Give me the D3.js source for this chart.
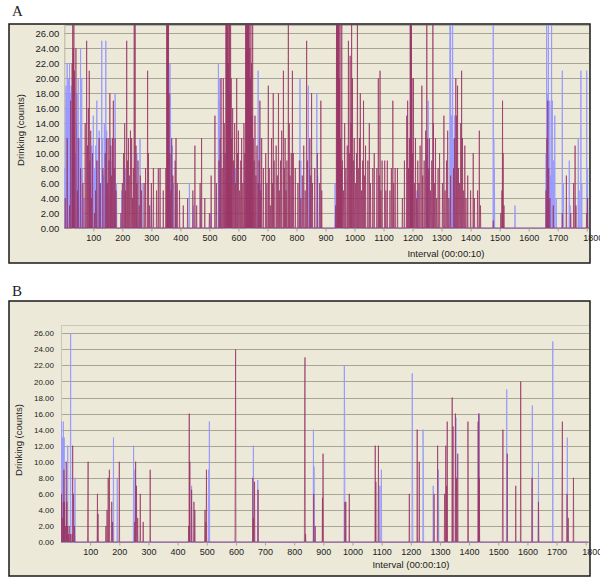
<!DOCTYPE html>
<html>
<head>
<meta charset="utf-8">
<script src="https://cdn.jsdelivr.net/npm/d3@7/dist/d3.min.js"></script>
<style>
  body { margin: 0; background: #fff; }
  svg { display: block; }
  text { font-family: "Liberation Sans", Arial, sans-serif; fill: #222; }
</style>
</head>
<body>
<div id="chart"></div>
<script>
// Drinking counts per 10 s interval as [interval, count].
// Intervals not listed are 0. Values of 30 run off the top of the plot.
const a_maroon = [
  [3,4],[10,12],[18,3],[22,17],[27,22],[29,30],[31,24],[33,30],[35,21],[40,24],[45,5],[48,12],[56,8],[64,6],
  [72,14],[77,25],[80,11],[83,16],[86,21],[88,9],[91,13],[94,4],[97,10],[104,2],[108,5],[112,9],[120,12],[124,6],[133,8],[141,10],[145,12],[148,6],[151,12],[154,9],[157,18],[160,11],[163,7],[166,12],[169,17],[172,8],[175,12],[178,5],
  [195,2],[200,6],[204,10],[208,14],[211,5],[215,25],[218,9],[221,12],[224,7],[228,13],[232,12],[235,4],[238,8],[241,30],[244,30],[247,11],[250,6],[254,9],[258,3],[262,7],[266,5],[275,6],[280,8],[287,21],[290,10],[294,3],[300,6],[307,8],[318,5],[324,8],[330,8],[341,5],
  [350,8],[353,30],[355,30],[357,30],[359,30],[361,18],[364,10],[367,5],[370,12],[374,7],[382,9],[385,12],[389,6],[397,5],
  [410,3],[425,4],[443,5],[450,11],[456,3],[468,6],[473,12],[484,4],[500,2],[506,7],[519,15],[524,6],
  [533,9],[537,12],[540,20],[544,8],[548,20],[551,14],[554,10],[557,30],[559,30],[561,30],[563,30],[565,22],[567,30],[569,30],[571,18],[573,30],[575,20],[577,12],[580,16],[583,9],[587,14],[590,6],[594,20],[597,10],[600,13],[604,5],[608,9],[611,12],[615,6],[619,14],[622,10],
  [625,30],[627,30],[629,30],[631,30],[633,30],[635,30],[637,30],[639,24],[641,20],[643,30],[645,22],[647,15],[649,30],[651,12],[654,9],[657,15],[660,7],[664,11],[668,6],[671,9],[674,17],[677,5],[680,12],[686,8],[694,10],[698,6],
  [703,19],[706,8],[710,3],[714,12],[717,6],[720,18],[723,9],[730,11],[734,7],[738,18],[741,5],[745,9],[749,13],[755,21],[758,8],[761,12],[764,5],[767,9],[772,30],[775,14],[778,7],[782,10],[786,21],[789,10],[796,8],
  [805,6],[810,9],[815,4],[820,7],[825,11],[830,5],[835,25],[838,9],[846,12],[849,7],[852,18],[855,6],[863,8],[872,10],[880,6],[884,17],[887,5],
  [935,3],[938,30],[940,30],[942,30],[944,30],[946,30],[948,20],[950,30],[952,12],[954,8],[956,30],[958,9],[962,5],[966,14],[970,8],[975,11],[979,25],[982,10],[985,23],[988,14],[990,30],[993,20],[996,9],[999,12],
  [1003,6],[1007,10],[1010,30],[1013,8],[1017,12],[1020,18],[1024,5],[1028,9],[1031,17],[1034,7],[1038,11],[1046,9],[1051,14],[1055,6],[1063,8],[1068,10],[1077,8],[1082,20],[1085,7],[1088,21],[1091,5],[1095,9],
  [1104,9],[1108,5],[1113,9],[1122,5],[1127,8],[1132,17],[1135,6],[1140,8],[1148,8],[1165,4],[1172,9],[1180,15],[1183,17],[1186,8],[1189,12],[1192,30],[1194,30],[1196,30],[1198,20],
  [1200,10],[1203,20],[1206,6],[1210,12],[1214,4],[1218,9],[1222,6],[1226,11],[1232,19],[1235,7],[1240,9],[1245,13],[1249,30],[1251,12],[1254,8],[1258,12],[1262,5],[1266,9],[1270,30],[1272,14],[1275,6],[1279,12],[1283,4],[1288,8],[1293,10],
  [1303,6],[1308,15],[1312,5],[1317,9],[1321,13],[1325,4],[1331,7],[1341,8],[1345,12],[1349,20],[1352,15],[1355,19],[1358,8],[1362,6],[1366,14],[1369,21],[1372,12],[1376,5],[1380,11],[1384,4],[1390,7],
  [1400,5],[1409,10],[1413,4],[1424,5],[1430,13],[1434,3],
  [1478,1],[1504,2],[1508,5],[1510,17],[1512,10],[1515,3],[1660,5],[1663,12],[1666,17],[1669,8],[1673,4],[1685,3],[1716,2],[1730,7],[1745,2],[1755,6],[1760,11],[1763,3],[1800,2],[1803,4]
];
const a_blue = [
  [2,8],[5,14],[6,19],[8,18],[10,22],[12,16],[14,20],[15,17],[16,11],[18,22],[20,15],[21,18],[22,9],[24,19],[26,13],[28,6],[30,16],[34,12],[38,10],[42,14],[44,18],[48,20],[52,12],[56,24],[58,14],[60,20],[63,8],[68,4],
  [90,6],[95,11],[100,15],[104,8],[108,11],[112,17],[116,9],[120,13],[125,6],[129,25],[132,12],[135,7],[138,14],[140,10],[143,25],[146,13],[150,6],[160,12],[165,9],[175,18],[180,6],[198,5],[210,8],[250,10],[261,12],[268,6],[300,4],
  [362,14],[364,22],[366,18],[368,9],[372,11],[376,6],[385,5],[431,6],[445,3],[470,4],[505,2],[531,22],[534,17],[536,20],[539,10],[590,8],[668,21],[671,12],[675,6],
  [812,20],[815,9],[841,19],[844,8],[870,18],[873,7],[933,6],[1194,30],[1196,18],[1199,10],[1215,5],[1249,10],[1254,17],[1257,8],
  [1329,30],[1331,30],[1334,15],[1338,30],[1341,12],[1345,15],[1478,30],[1480,12],[1482,8],[1553,3],
  [1660,10],[1662,30],[1664,18],[1666,14],[1668,30],[1670,10],[1673,17],[1676,7],[1679,30],[1682,17],[1686,9],[1690,15],[1695,4],
  [1716,21],[1720,6],[1740,9],[1743,3],[1771,12],[1774,5],[1780,21],[1783,6],[1800,21],[1803,8]
];
const b_maroon = [
  [2,6],[4,3],[8,5],[10,9],[12,5],[15,2],[18,10],[20,5],[22,2],[26,1],[28,2],[32,1],[38,1],[40,12],[43,6],[46,2],
  [92,5],[93,10],[125,6],[127,3.5],[154,2],[158,4],[162,8],[166,9],[174,5],[177,2.5],[200,10],
  [253,2.5],[256,10],[259,7],[263,3],[272,6],[282,2.5],[306,9],
  [438,2],[440,16],[442,10],[448,6.5],[456,5],[459,4],[494,4],[497,2.5],[499,9],
  [598,12],[599,24],[658,8],[660,3],[664,7.5],[676,6.5],[836,18],[837,23],[839,1],[867,6],[872,2],[897,5.5],[899,11],
  [974,5],[977,5],[989,6],[1078,12],[1080,7.5],[1089,12],
  [1195,6],[1222,14],[1229,10],[1280,6],[1292,12],
  [1316,6],[1320,12],[1323,7],[1325,15],[1342,18],[1345,14.4],[1353,16],[1357,8],[1361,11],[1396,15],[1397,8],[1431,15],[1433,16],[1435,8],
  [1515,7],[1516,14],[1531,11],[1560,7],[1577,20],[1616,8],[1638,5],[1719,7.5],[1720,15],[1736,6],[1740,3],[1758,8]
];
const b_blue = [
  [1,15],[5,13],[8,15],[11,13],[23,12],[33,26],[48,8],[180,13],[193,8],[249,12],[254,9],
  [448,7],[507,9],[509,15],[660,12],[675,7.7],[866,14],[868,9.4],
  [972,22],[973,16],[1094,7],[1099,9],[1205,21],[1206,10],[1242,14],[1243,10],[1277,7],[1295,9],
  [1355,15.5],[1435,16],[1529,19],[1617,17],[1638,10],[1687,25],[1737,13]
];

const n_intervals = 1810;
const y_ticks = d3.range(0, 27, 2);
const x_ticks = d3.range(100, 1801, 100);

const maroon = '#993366';
const blue = '#9999ff';
const grid_color = '#a8a597';
const panel_bg = '#ece9d8';

function full_series(pairs) {
    const vals = new Array(n_intervals).fill(0);
    pairs.forEach(([i, v]) => { vals[i] = v; });
    return vals;
}

const svg = d3.select('#chart').append('svg')
    .attr('width', 600)
    .attr('height', 587);

function draw_panel(p) {
    const g = svg.append('g');

    g.append('text')
        .attr('x', p.letter_x).attr('y', p.letter_y)
        .style('font-family', '"Liberation Serif", "Times New Roman", serif')
        .style('font-size', '15px')
        .text(p.letter);

    g.append('rect')
        .attr('x', p.frame.x).attr('y', p.frame.y)
        .attr('width', p.frame.w).attr('height', p.frame.h)
        .attr('fill', panel_bg)
        .attr('stroke', '#1a1a1a')
        .attr('stroke-width', 1.5);

    const x = d3.scaleLinear().domain([0, 1800]).range([p.left, p.x1800]);
    const y = d3.scaleLinear().domain([0, 26]).range([p.bottom, p.y26]);

    // horizontal gridlines
    g.append('g').selectAll('line')
        .data(y_ticks)
        .enter().append('line')
        .attr('x1', p.left).attr('x2', p.right)
        .attr('y1', d => Math.round(y(d)) + 0.5)
        .attr('y2', d => Math.round(y(d)) + 0.5)
        .attr('stroke', grid_color)
        .attr('stroke-width', 1);

    // plot area border (top and left)
    g.append('path')
        .attr('d', `M${p.left + 0.5},${p.bottom}V${p.top + 0.5}H${p.right}`)
        .attr('fill', 'none')
        .attr('stroke', p.border_color)
        .attr('stroke-width', 1);

    const clip_id = 'clip_' + p.letter;
    svg.append('clipPath').attr('id', clip_id)
        .append('rect')
        .attr('x', p.left).attr('y', p.top)
        .attr('width', p.right - p.left).attr('height', p.bottom - p.top + 1);

    const line = d3.line()
        .x((d, i) => x(i))
        .y(d => y(d));

    const series_g = g.append('g').attr('clip-path', `url(#${clip_id})`);
    series_g.append('path')
        .datum(full_series(p.blue))
        .attr('d', line)
        .attr('fill', 'none')
        .attr('stroke', blue)
        .attr('stroke-width', 0.9);
    series_g.append('path')
        .datum(full_series(p.maroon))
        .attr('d', line)
        .attr('fill', 'none')
        .attr('stroke', maroon)
        .attr('stroke-opacity', 0.9)
        .attr('stroke-width', 0.8);

    // y axis labels
    const y_axis = d3.axisLeft(y)
        .tickValues(y_ticks)
        .tickFormat(d3.format('.2f'))
        .tickSize(0)
        .tickPadding(p.y_pad);
    const ya = g.append('g')
        .attr('transform', `translate(${p.left},0)`)
        .call(y_axis);
    ya.select('.domain').remove();
    ya.selectAll('text').style('font-size', p.y_font).style('fill', '#222');

    // x axis
    const x_axis = d3.axisBottom(x)
        .tickValues(x_ticks)
        .tickFormat(d3.format('d'))
        .tickSizeInner(3)
        .tickSizeOuter(0)
        .tickPadding(3);
    const xa = g.append('g')
        .attr('transform', `translate(0,${p.bottom + 0.5})`)
        .call(x_axis);
    xa.select('.domain').remove();
    xa.selectAll('line').attr('stroke', grid_color);
    xa.selectAll('text').style('font-size', p.x_font).style('fill', '#222');
    // the last label sits just right of its tick, as in the original
    xa.selectAll('.tick').filter(d => d === 1800).select('text')
        .attr('text-anchor', 'start').attr('x', -4);

    g.append('text')
        .attr('text-anchor', 'middle')
        .attr('x', p.x_title[0]).attr('y', p.x_title[1])
        .style('font-size', '9.5px')
        .text('Interval (00:00:10)');

    g.append('text')
        .attr('text-anchor', 'middle')
        .attr('transform', `translate(${p.y_title[0]},${p.y_title[1]})rotate(-90)`)
        .style('font-size', '9.5px')
        .text('Drinking (counts)');
}

draw_panel({
    letter: 'A', letter_x: 12, letter_y: 16,
    frame: {x: 9, y: 24, w: 581, h: 239},
    left: 64.3, right: 589, top: 25, bottom: 228,
    x1800: 586.7, y26: 33.3,
    border_color: '#b5b2a6',
    y_pad: 5, y_font: '9.5px', x_font: '9px',
    x_title: [446, 257], y_title: [24, 130],
    maroon: a_maroon, blue: a_blue
});

draw_panel({
    letter: 'B', letter_x: 12, letter_y: 296,
    frame: {x: 9, y: 301, w: 581, h: 275},
    left: 61, right: 589, top: 325, bottom: 542,
    x1800: 585.7, y26: 333.3,
    border_color: '#c9c6ba',
    y_pad: 7, y_font: '8px', x_font: '9px',
    x_title: [411, 568], y_title: [22, 440],
    maroon: b_maroon, blue: b_blue
});
</script>
</body>
</html>
